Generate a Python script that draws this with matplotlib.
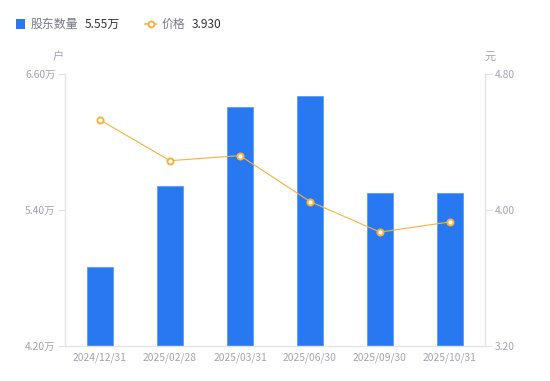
import matplotlib
matplotlib.use('Agg')
import matplotlib.pyplot as plt
from matplotlib.lines import Line2D
from matplotlib.patches import Rectangle
from matplotlib.ticker import FuncFormatter

plt.rcParams['font.family'] = ['Noto Sans CJK SC', 'DejaVu Sans']

dates = ['2024/12/31', '2025/02/28', '2025/03/31', '2025/06/30', '2025/09/30', '2025/10/31']
holders = [4.90, 5.61, 6.31, 6.41, 5.55, 5.55]   # 万户
price = [4.53, 4.29, 4.32, 4.05, 3.87, 3.93]      # 元

BLUE = '#2878f2'
ORANGE = '#f7b23b'
GRAY = '#a3a3b3'
AXIS = '#e3e3e8'

W, H = 550, 381
fig = plt.figure(figsize=(W/100, H/100), dpi=100)
ax = fig.add_axes([65/W, 1 - 346/H, 420/W, 272/H])
ax2 = ax.twinx()

x = range(len(dates))
ax.bar(x, holders, width=0.36, color=BLUE, edgecolor='#5c9bf5', linewidth=0.6, zorder=2)
ax.set_xlim(-0.5, len(dates) - 0.5)
ax.set_ylim(4.20, 6.60)
ax.set_yticks([4.20, 5.40, 6.60])
ax.yaxis.set_major_formatter(FuncFormatter(lambda v, p: '%.2f万' % v))
ax.set_xticks(list(x))
ax.set_xticklabels(dates)

ax2.plot(x, price, color=ORANGE, lw=0.8, marker='o', ms=4.4, mfc='white',
         mec=ORANGE, mew=1.4, zorder=3)
ax2.set_ylim(3.20, 4.80)
ax2.set_yticks([3.20, 4.00, 4.80])
ax2.yaxis.set_major_formatter(FuncFormatter(lambda v, p: '%.2f' % v))

for a in (ax, ax2):
    for s in a.spines.values():
        s.set_visible(False)
    a.tick_params(colors=AXIS, labelcolor=GRAY, labelsize=7.4, length=5, width=0.8, pad=2)
ax.tick_params(axis='x', length=0, pad=5)
ax.spines['left'].set_visible(True)
ax.spines['bottom'].set_visible(True)
ax2.spines['right'].set_visible(True)
for s in (ax.spines['left'], ax.spines['bottom'], ax2.spines['right']):
    s.set_color(AXIS)
    s.set_linewidth(1.0)

# unit labels
fig.text(58/W, 1 - 57/H, '户', color=GRAY, fontsize=8, ha='center', va='center')
fig.text(490/W, 1 - 57/H, '元', color=GRAY, fontsize=8, ha='center', va='center')

# legend
ly = 1 - 24/H
fig.add_artist(Rectangle((16/W, 1 - 29/H), 9/W, 10/H, transform=fig.transFigure,
                         color=BLUE, lw=0))
fig.text(31/W, ly, '股东数量', color='#777788', fontsize=8.6, va='center')
fig.text(85/W, ly, '5.55万', color='#333333', fontsize=8.6, va='center')
fig.add_artist(Line2D([145/W, 156/W], [ly, ly], transform=fig.transFigure,
                      color=ORANGE, lw=1.2))
fig.add_artist(Line2D([150.5/W], [ly], transform=fig.transFigure, marker='o', ms=4.2,
                      mfc='white', mec=ORANGE, mew=1.4))
fig.text(162/W, ly, '价格', color='#777788', fontsize=8.6, va='center')
fig.text(192/W, ly, '3.930', color='#333333', fontsize=8.6, va='center')

fig.savefig('out.png', dpi=100)
